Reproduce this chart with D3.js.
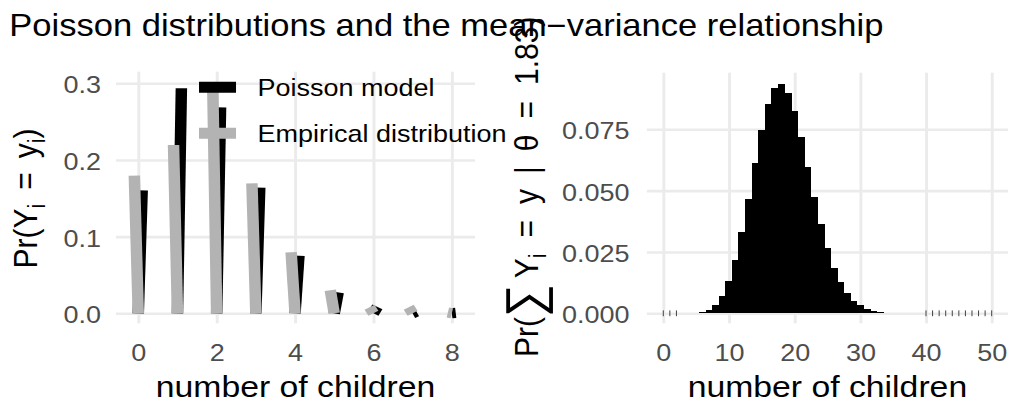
<!DOCTYPE html>
<html>
<head>
<meta charset="utf-8">
<title>Poisson distributions and the mean-variance relationship</title>
<script src="https://d3js.org/d3.v7.min.js"></script>
<style>
  body { margin: 0; background: #fff; }
  text { font-family: "Liberation Sans", Arial, sans-serif; }
  .lab text { fill: #4d4d4d; font-size: 24px; }
  .lab .domain { display: none; }
  .grid line { stroke: #ebebeb; stroke-width: 2.6; }
  .grid .domain { display: none; }
</style>
</head>
<body>
<script>
// left panel: number of children, Poisson model vs empirical
var children = [0, 1, 2, 3, 4, 5, 6, 7, 8];
var poissonModel = [0.1604, 0.2936, 0.2686, 0.1638, 0.0750, 0.0274, 0.0084, 0.0022, 0.0005];
var empirical = [0.1795, 0.2195, 0.2990, 0.1696, 0.0796, 0.0300, 0.0080, 0.0080, 0.0010];

// right panel: distribution of the sum
var totals = [0, 1, 2, 3, 4, 5, 6, 7, 8, 9, 10, 11, 12, 13, 14, 15, 16, 17, 18, 19, 20,
  21, 22, 23, 24, 25, 26, 27, 28, 29, 30, 31, 32, 33, 34, 35, 36, 37, 38, 39, 40,
  41, 42, 43, 44, 45, 46, 47, 48, 49, 50];
var totalProb = [1.13e-8, 2.06e-7, 1.89e-6, 1.152e-5, 5.27e-5, 1.930e-4, 5.886e-4, 1.539e-3,
  3.520e-3, 7.157e-3, 0.01310, 0.02179, 0.03323, 0.04678, 0.06115, 0.07460, 0.08533,
  0.09185, 0.09338, 0.08994, 0.08230, 0.07172, 0.05966, 0.04747, 0.03620, 0.02650,
  0.01865, 0.01264, 8.261e-3, 5.213e-3, 3.180e-3, 1.877e-3, 1.073e-3, 5.951e-4, 3.203e-4,
  1.675e-4, 8.51e-5, 4.21e-5, 2.03e-5, 9.52e-6, 4.35e-6, 1.94e-6, 8.47e-7, 3.61e-7,
  1.50e-7, 6.10e-8, 2.43e-8, 9.4e-9, 3.6e-9, 1.3e-9, 4.9e-10];

var leftXTicks = [0, 2, 4, 6, 8];
var leftYTicks = [0, 0.1, 0.2, 0.3];
var rightXTicks = [0, 10, 20, 30, 40, 50];
var rightYTicks = [0, 0.025, 0.05, 0.075];
var legendLabels = ["Poisson model", "Empirical distribution"];

var SX = 1.125;   // picture is stretched horizontally
var svg = d3.select("body").append("svg").attr("width", 1010).attr("height", 404);
var g = svg.append("g").attr("transform", "scale(" + SX + ",1)");

var boxL = {x0: 103.1, x1: 422.2, y0: 71.7, y1: 323.3};
var boxR = {x0: 575.0, x1: 896.1, y0: 72.7, y1: 323.3};

var xL = d3.scaleLinear().domain([0, 8]).range([122.9, 401.6]);
var yL = d3.scaleLinear().domain([0, 0.3]).range([313.3, 83.3]);
var xR = d3.scaleLinear().domain([0, 50]).range([589.6, 881.5]);
var yR = d3.scaleLinear().domain([0, 0.075]).range([313.3, 129.3]);

function grid(x, y, box, xt, yt) {
  g.append("g").attr("class", "grid")
    .attr("transform", "translate(0," + box.y1 + ")")
    .call(d3.axisBottom(x).tickValues(xt).tickSize(-(box.y1 - box.y0)).tickFormat(""));
  g.append("g").attr("class", "grid")
    .attr("transform", "translate(" + box.x0 + ",0)")
    .call(d3.axisLeft(y).tickValues(yt).tickSize(-(box.x1 - box.x0)).tickFormat(""));
}
grid(xL, yL, boxL, leftXTicks, leftYTicks);
grid(xR, yR, boxR, rightXTicks, rightYTicks);

function labels(x, y, xt, yt, yfmt, yAxisX) {
  g.append("g").attr("class", "lab")
    .attr("transform", "translate(0,344)")
    .call(d3.axisBottom(x).tickValues(xt).tickSize(0).tickPadding(0).tickFormat(d3.format("d")));
  g.append("g").attr("class", "lab")
    .attr("transform", "translate(" + yAxisX + ",0)")
    .call(d3.axisLeft(y).tickValues(yt).tickSize(0).tickPadding(0).tickFormat(d3.format(yfmt)))
    .selectAll("text").attr("dy", "0.4em");
}
labels(xL, yL, leftXTicks, leftYTicks, ".1f", 89.9);
labels(xR, yR, rightXTicks, rightYTicks, ".3f", 559.5);

// left panel bars: thick slanted segments
var lw = 10.2, shift = 0.1;
g.selectAll(".pois").data(children).enter().append("line")
  .attr("x1", function(d) { return xL(d); })
  .attr("y1", yL(0))
  .attr("x2", function(d) { return xL(d + shift); })
  .attr("y2", function(d, i) { return yL(poissonModel[i]); })
  .attr("stroke", "#000").attr("stroke-width", lw);
g.selectAll(".emp").data(children).enter().append("line")
  .attr("x1", function(d) { return xL(d); })
  .attr("y1", yL(0))
  .attr("x2", function(d) { return xL(d - shift); })
  .attr("y2", function(d, i) { return yL(empirical[i]); })
  .attr("stroke", "#b3b3b3").attr("stroke-width", lw);

// right panel bars
var bw = xR(1) - xR(0);
totals.forEach(function(d, i) {
  var len = yR(0) - yR(totalProb[i]);
  if (len < 0.015) {
    // degenerate segment: drawn as a hairline across the baseline
    g.append("line")
      .attr("x1", xR(d)).attr("x2", xR(d))
      .attr("y1", yR(0) - bw / 2).attr("y2", yR(0) + bw / 2)
      .attr("stroke", "#222").attr("stroke-width", 0.8);
  } else {
    g.append("line")
      .attr("x1", xR(d)).attr("x2", xR(d))
      .attr("y1", yR(0)).attr("y2", yR(totalProb[i]))
      .attr("stroke", "#000").attr("stroke-width", bw + 0.6)
      .attr("shape-rendering", "crispEdges");
  }
});

// legend
var legColors = ["#000", "#b3b3b3"];
var legY = [87.3, 133.3];
legendLabels.forEach(function(t, i) {
  g.append("line").attr("x1", 176.9).attr("x2", 209.8)
    .attr("y1", legY[i]).attr("y2", legY[i])
    .attr("stroke", legColors[i]).attr("stroke-width", 11);
  g.append("text").attr("x", 229).attr("y", legY[i] + 9.2)
    .attr("font-size", 24).attr("fill", "#000").text(t);
});

// titles
g.append("text").attr("x", 8.3).attr("y", 36.5).attr("font-size", 30.7)
  .text("Poisson distributions and the mean\u2212variance relationship");

[262.7, 735.5].forEach(function(cx) {
  g.append("text").attr("x", cx).attr("y", 397).attr("text-anchor", "middle")
    .attr("font-size", 30).text("number of children");
});

var yt1 = g.append("text").attr("text-anchor", "middle").attr("font-size", 30)
  .attr("transform", "translate(33,198.5) rotate(-90)");
yt1.append("tspan").text("Pr(Y");
yt1.append("tspan").attr("font-size", 21).attr("dy", 7).text("i");
yt1.append("tspan").attr("dy", -7).attr("dx", 14).text("=");
yt1.append("tspan").attr("dx", 14).text("y");
yt1.append("tspan").attr("font-size", 21).attr("dy", 7).text("i");
yt1.append("tspan").attr("dy", -7).text(")");

var yt2 = g.append("text").attr("text-anchor", "start").attr("font-size", 30)
  .attr("transform", "translate(478,357) rotate(-90)");
yt2.append("tspan").text("Pr(");
yt2.append("tspan").attr("font-size", 46).attr("dy", 4).text("\u2211");
yt2.append("tspan").attr("dy", -4).attr("dx", 6).text("Y");
yt2.append("tspan").attr("font-size", 21).attr("dy", 7).text("i");
yt2.append("tspan").attr("dy", -7).attr("dx", 16).text("=");
yt2.append("tspan").attr("dx", 16).text("y");
yt2.append("tspan").attr("dx", 15).text("|");
yt2.append("tspan").attr("dx", 15).text("\u03b8");
yt2.append("tspan").attr("dx", 16).text("=");
yt2.append("tspan").attr("dx", 16).text("1.83)");
</script>
</body>
</html>
